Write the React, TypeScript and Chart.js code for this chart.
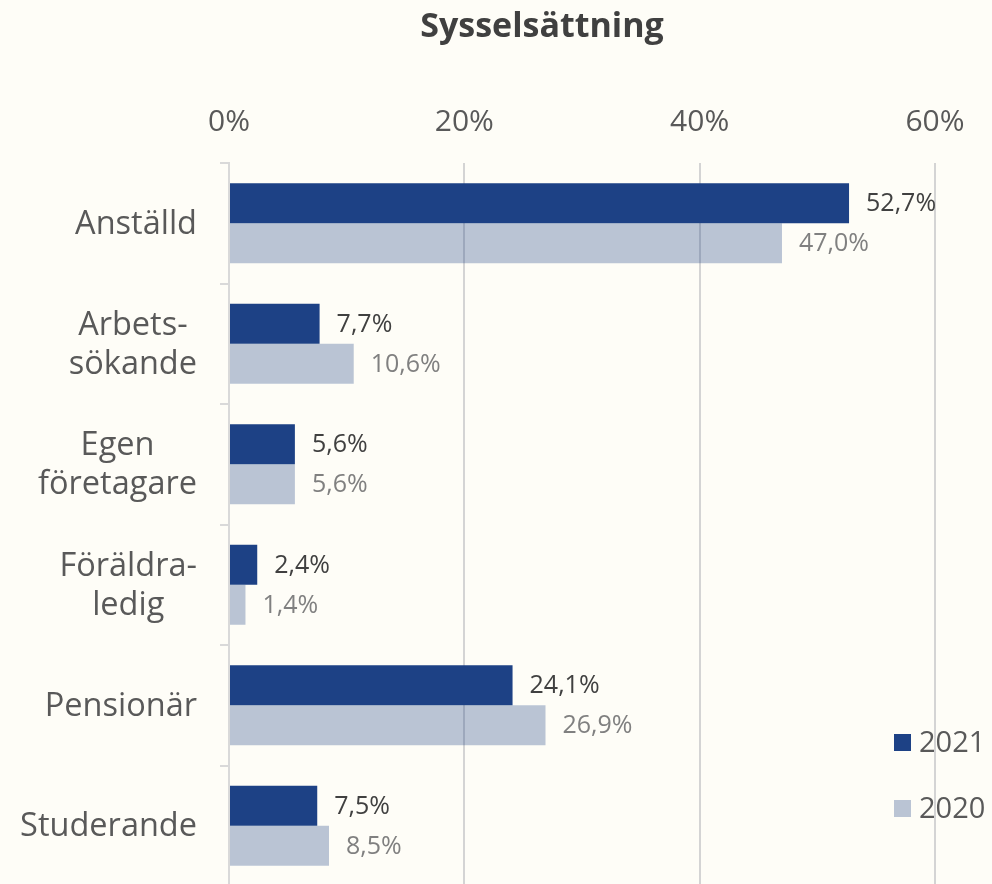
import React, { useEffect, useRef } from 'react';
import { Chart, registerables } from 'chart.js';

Chart.register(...registerables);

const chartTitle = 'Sysselsättning';
const categories: string[][] = [
  ['Anställd'],
  ['Arbets-', 'sökande'],
  ['Egen', 'företagare'],
  ['Föräldra-', 'ledig'],
  ['Pensionär'],
  ['Studerande'],
];
const seriesLabels = ['2021', '2020'];
const values2021 = [52.7, 7.7, 5.6, 2.4, 24.1, 7.5];
const values2020 = [47.0, 10.6, 5.6, 1.4, 26.9, 8.5];
const xTickValues = [0, 20, 40, 60];

const FONT = '"Open Sans", "DejaVu Sans", sans-serif';
const BG = '#fefdf7';
const NAVY = 'rgb(29,65,133)';
const LIGHT = 'rgba(29,65,133,0.3)';

const fmt = (v: number) => v.toFixed(1).replace('.', ',') + '%';

const customDraw = {
  id: 'customDraw',
  afterDatasetsDraw(chart: any) {
    const ctx = chart.ctx;
    ctx.save();
    chart.data.datasets.forEach((ds: any, di: number) => {
      const meta = chart.getDatasetMeta(di);
      ctx.font = `25px ${FONT}`;
      ctx.fillStyle = di === 0 ? '#404040' : '#808080';
      ctx.textAlign = 'left';
      ctx.textBaseline = 'middle';
      meta.data.forEach((el: any, i: number) => {
        ctx.fillText(fmt(ds.data[i]), el.x + 17, el.y + 1);
      });
    });
    ctx.restore();
  },
  afterDraw(chart: any) {
    const ctx = chart.ctx;
    const area = chart.chartArea;
    const yScale = chart.scales.y;
    ctx.save();
    // category labels
    ctx.font = `32.5px ${FONT}`;
    ctx.fillStyle = '#595959';
    ctx.textAlign = 'center';
    ctx.textBaseline = 'middle';
    const lh = 39;
    categories.forEach((lines, i) => {
      const cy = yScale.getPixelForTick(i);
      const maxW = Math.max(...lines.map((l) => ctx.measureText(l).width));
      const cx = area.left - 32 - maxW / 2;
      lines.forEach((l, j) => {
        ctx.fillText(l, cx, cy + (j - (lines.length - 1) / 2) * lh + 1);
      });
    });
    // title
    ctx.font = `bold 34px ${FONT}`;
    ctx.fillStyle = '#404040';
    ctx.fillText(chartTitle, 542, 27);
    // legend
    ctx.font = `29px ${FONT}`;
    ctx.textAlign = 'left';
    const legendY = [743, 809];
    chart.data.datasets.forEach((ds: any, di: number) => {
      const y = legendY[di];
      ctx.fillStyle = ds.backgroundColor;
      ctx.fillRect(894, y - 9, 17, 17);
      ctx.fillStyle = '#595959';
      ctx.fillText(ds.label, 919, y + 1);
    });
    ctx.restore();
  },
};

export default function App() {
  const ref = useRef<HTMLCanvasElement | null>(null);

  useEffect(() => {
    document.body.style.margin = '0';
    const canvas = ref.current;
    if (!canvas) return;
    const chart = new Chart(canvas, {
      type: 'bar',
      data: {
        labels: categories.map((c) => c.join(' ')),
        datasets: [
          { label: seriesLabels[0], data: values2021, backgroundColor: NAVY, borderWidth: 0 },
          { label: seriesLabels[1], data: values2020, backgroundColor: LIGHT, borderWidth: 0 },
        ],
      },
      options: {
        indexAxis: 'y',
        responsive: false,
        animation: false,
        devicePixelRatio: 1,
        layout: { padding: 0 },
        datasets: { bar: { categoryPercentage: 0.664, barPercentage: 1 } },
        plugins: {
          legend: { display: false },
          title: { display: false },
          tooltip: { enabled: false },
        },
        scales: {
          x: {
            position: 'top',
            min: 0,
            max: 64.85,
            afterBuildTicks: (scale: any) => {
              scale.ticks = xTickValues.map((v) => ({ value: v }));
            },
            afterFit: (scale: any) => {
              scale.height = 163;
            },
            ticks: {
              callback: (v: any) => v + '%',
              color: '#595959',
              font: { family: FONT, size: 30 },
              padding: 23,
            },
            grid: { color: '#d4d4d4', lineWidth: 2, drawTicks: false },
            border: { display: false },
          },
          y: {
            afterFit: (scale: any) => {
              scale.width = 229;
            },
            ticks: { display: false },
            grid: {
              drawOnChartArea: false,
              drawTicks: true,
              tickLength: 9,
              color: '#d9d9d9',
              lineWidth: 2,
            },
            border: { display: true, color: '#d9d9d9', width: 2 },
          },
        },
      },
      plugins: [customDraw],
    } as any);
    return () => chart.destroy();
  }, []);

  return (
    <div
      style={{
        position: 'absolute',
        left: 0,
        top: 0,
        width: 992,
        height: 884,
        overflow: 'hidden',
        background: BG,
      }}
    >
      <canvas ref={ref} width={992} height={886} style={{ display: 'block' }} />
    </div>
  );
}
